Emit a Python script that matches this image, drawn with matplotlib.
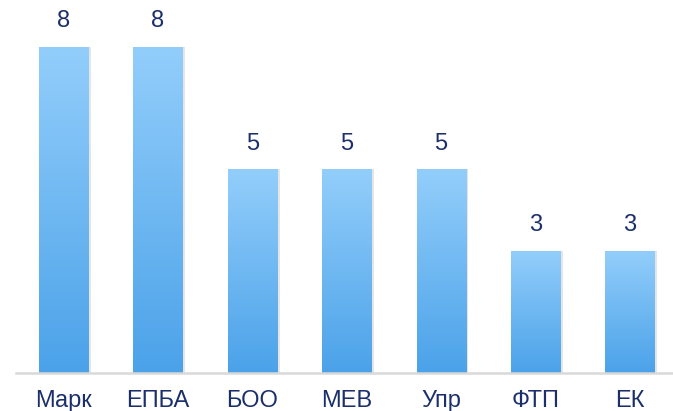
import matplotlib
matplotlib.use('Agg')
import matplotlib.pyplot as plt
import numpy as np
from matplotlib.colors import LinearSegmentedColormap

categories = ['Марк', 'ЕПБА', 'БОО', 'МЕВ', 'Упр', 'ФТП', 'ЕК']
values = [8, 8, 5, 5, 5, 3, 3]

plt.rcParams['font.family'] = ['Liberation Sans', 'DejaVu Sans']
text_color = '#1B2F6B'

fig = plt.figure(figsize=(6.73, 4.11), dpi=100)
# axes runs a bit past the right edge, like the original
ax = fig.add_axes([16.3 / 673, 1 - 373 / 411, (673 - 16.3) / 673, (373 - 47) / 411])
ax.set_xlim(-0.5, (673 - 63.5) / 94.4)
ax.set_ylim(0, 8)

x = np.arange(len(categories))
width = 0.52

# soft shadow behind bars
ax.bar(x + 0.03, values, width=width, color='#000000', alpha=0.10, zorder=1)

cmap = LinearSegmentedColormap.from_list('bar', ['#4BA2E9', '#93CEFB'])
grad = np.linspace(0, 1, 256).reshape(-1, 1)
bars = ax.bar(x, values, width=width, color='none', zorder=2)
for b in bars:
    im = ax.imshow(grad, cmap=cmap, aspect='auto', origin='lower',
                   extent=[b.get_x(), b.get_x() + b.get_width(), 0, b.get_height()],
                   zorder=3)
    im.set_clip_path(b)

for xi, v in zip(x, values):
    ax.annotate(str(v), (xi, v), xytext=(0, 18.5), textcoords='offset points',
                ha='center', va='center', fontsize=17, color=text_color,
                annotation_clip=False)

ax.set_xticks(x)
ax.set_xticklabels(categories, fontsize=17, color=text_color)
ax.tick_params(axis='x', length=0, pad=12.5)
ax.set_yticks([])
for s in ['top', 'right', 'left']:
    ax.spines[s].set_visible(False)
ax.spines['bottom'].set_color('#D9D9D9')
ax.spines['bottom'].set_linewidth(1.8)
ax.spines['bottom'].set_zorder(4)

fig.savefig('out.png', dpi=100)
